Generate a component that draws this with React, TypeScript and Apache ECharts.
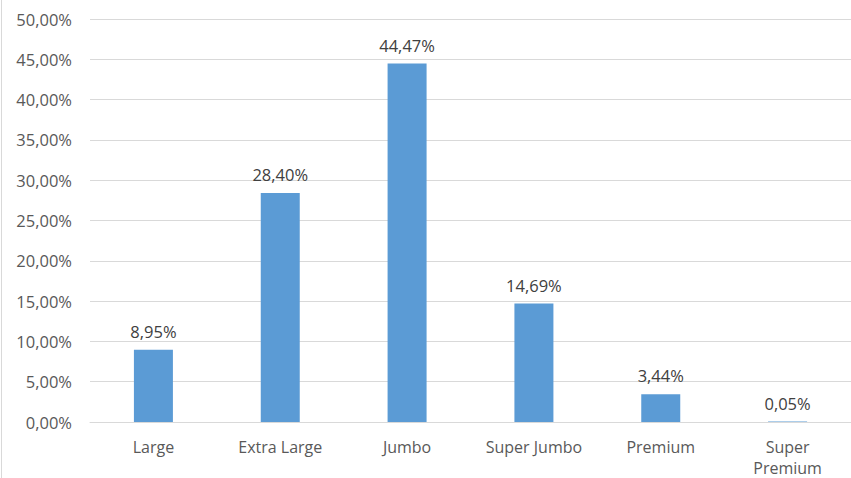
import React, { useEffect, useRef } from "react";
import * as echarts from "echarts";

const categories = ["Large", "Extra Large", "Jumbo", "Super Jumbo", "Premium", "Super\nPremium"];
const values = [8.95, 28.4, 44.47, 14.69, 3.44, 0.05];

const fmt = (v: number) => v.toFixed(2).replace(".", ",") + "%";

export default function App() {
  const ref = useRef<HTMLDivElement>(null);
  useEffect(() => {
    document.body.style.margin = "0";
    const chart = echarts.init(ref.current!, null, { renderer: "svg" });
    const font = "'Open Sans', sans-serif";
    chart.setOption({
      animation: false,
      backgroundColor: "#ffffff",
      grid: { left: 90, right: -1, top: 19, bottom: 52 },
      graphic: [
        {
          type: "line",
          shape: { x1: 1.5, y1: 0, x2: 1.5, y2: 478 },
          style: { stroke: "#d9d9d9", lineWidth: 1 },
        },
      ],
      xAxis: {
        type: "category",
        data: categories,
        axisTick: { show: false },
        axisLine: { lineStyle: { color: "#d9d9d9" } },
        axisLabel: {
          color: "#595959",
          fontFamily: font,
          fontSize: 16,
          margin: 14,
          lineHeight: 21,
          interval: 0,
        },
      },
      yAxis: {
        type: "value",
        min: 0,
        max: 50,
        interval: 5,
        axisLine: { show: false },
        axisTick: { show: false },
        splitLine: { lineStyle: { color: "#d9d9d9" } },
        axisLabel: {
          color: "#595959",
          fontFamily: font,
          fontSize: 16.5,
          margin: 18,
          formatter: (v: number) => fmt(v),
        },
      },
      series: [
        {
          type: "bar",
          data: values,
          barWidth: 39,
          itemStyle: { color: "#5b9bd5" },
          label: {
            show: true,
            position: "top",
            distance: 10,
            color: "#404040",
            fontFamily: font,
            fontSize: 16.5,
            formatter: (p: any) => fmt(p.value),
          },
        },
      ],
    });
    return () => chart.dispose();
  }, []);
  return <div ref={ref} style={{ position: "fixed", left: 0, top: 0, width: 851, height: 478 }} />;
}
